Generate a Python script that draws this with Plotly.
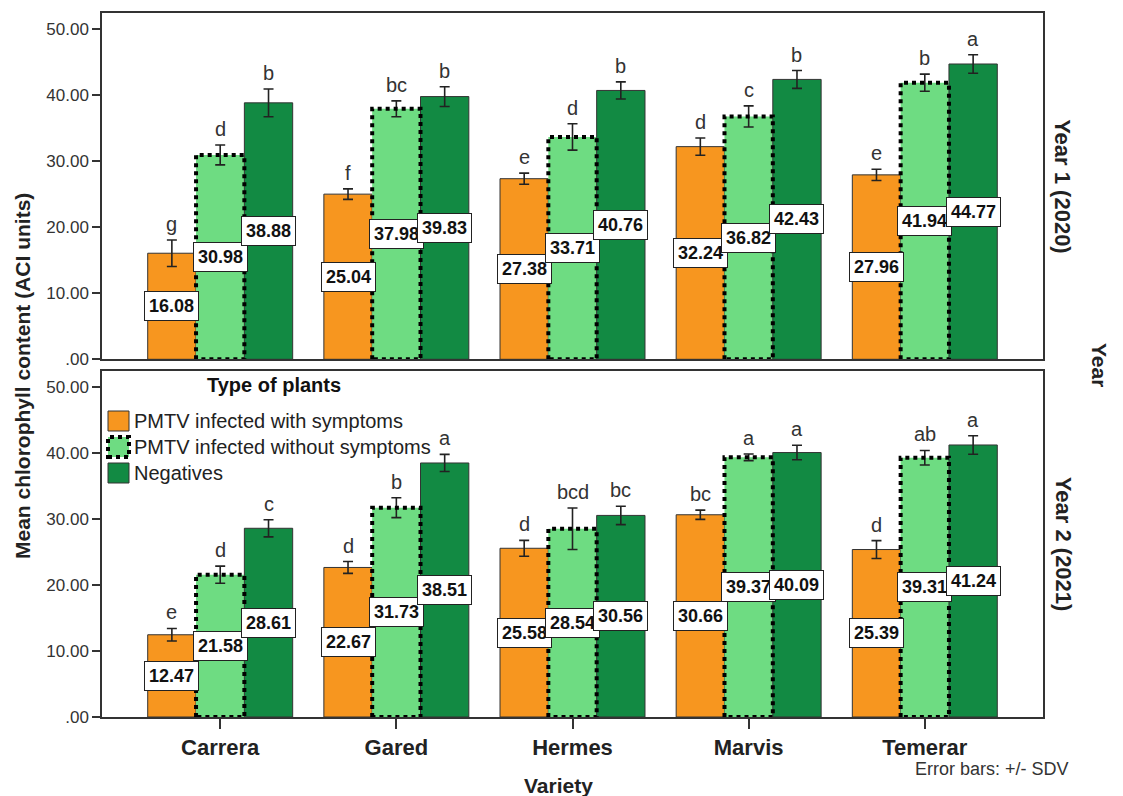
import plotly.graph_objects as go

# ---- data -------------------------------------------------------------
varieties = ["Carrera", "Gared", "Hermes", "Marvis", "Temerar"]
groups = ["PMTV infected with symptoms", "PMTV infected without symptoms", "Negatives"]

# Year 1 (2020)
y1_sym = [16.08, 25.04, 27.38, 32.24, 27.96]
y1_nosym = [30.98, 37.98, 33.71, 36.82, 41.94]
y1_neg = [38.88, 39.83, 40.76, 42.43, 44.77]
y1_sym_sd = [2.0, 0.8, 0.85, 1.3, 0.85]
y1_nosym_sd = [1.5, 1.2, 2.0, 1.6, 1.3]
y1_neg_sd = [2.1, 1.5, 1.3, 1.35, 1.4]
y1_sym_let = ["g", "f", "e", "d", "e"]
y1_nosym_let = ["d", "bc", "d", "c", "b"]
y1_neg_let = ["b", "b", "b", "b", "a"]

# Year 2 (2021)
y2_sym = [12.47, 22.67, 25.58, 30.66, 25.39]
y2_nosym = [21.58, 31.73, 28.54, 39.37, 39.31]
y2_neg = [28.61, 38.51, 30.56, 40.09, 41.24]
y2_sym_sd = [0.95, 0.9, 1.2, 0.7, 1.35]
y2_nosym_sd = [1.3, 1.5, 3.15, 0.5, 1.1]
y2_neg_sd = [1.3, 1.3, 1.4, 1.1, 1.4]
y2_sym_let = ["e", "d", "d", "bc", "d"]
y2_nosym_let = ["d", "b", "bcd", "a", "ab"]
y2_neg_let = ["c", "a", "bc", "a", "a"]

y_tickvals = [0, 10, 20, 30, 40, 50]
y_ticktext = [".00", "10.00", "20.00", "30.00", "40.00", "50.00"]

# ---- styling ----------------------------------------------------------
FONT = "Arial, Liberation Sans, sans-serif"
colors = ["#F7961F", "#6EDC82", "#128A43"]
BARGAP = 0.177
BW = (1 - BARGAP) / 3          # width of one bar in category units
xpos = list(range(len(varieties)))

panels = [
    dict(xa="x", ya="y", vals=[y1_sym, y1_nosym, y1_neg],
         sds=[y1_sym_sd, y1_nosym_sd, y1_neg_sd],
         lets=[y1_sym_let, y1_nosym_let, y1_neg_let]),
    dict(xa="x2", ya="y2", vals=[y2_sym, y2_nosym, y2_neg],
         sds=[y2_sym_sd, y2_nosym_sd, y2_neg_sd],
         lets=[y2_sym_let, y2_nosym_let, y2_neg_let]),
]

fig = go.Figure()
annotations = []

for p in panels:
    for k in range(3):
        solid = k != 1
        fig.add_trace(go.Bar(
            x=xpos, y=p["vals"][k], name=groups[k],
            xaxis=p["xa"], yaxis=p["ya"], showlegend=False,
            marker=dict(color=colors[k],
                        line=dict(color="#333333", width=1 if solid else 0)),
            error_y=dict(type="data", array=p["sds"][k], visible=True,
                         color="#222222", thickness=1.6, width=5),
        ))
    # dotted outline of the "without symptoms" bars
    ox, oy = [], []
    for i, v in zip(xpos, p["vals"][1]):
        x0, x1 = i - BW / 2, i + BW / 2
        ox += [x0, x0, x1, x1, x0, None]
        oy += [0, v, v, 0, 0, None]
    fig.add_trace(go.Scatter(
        x=ox, y=oy, mode="lines", xaxis=p["xa"], yaxis=p["ya"],
        line=dict(color="black", width=4, dash="dot"),
        showlegend=False, hoverinfo="skip"))

    for k in range(3):
        for i, v in enumerate(p["vals"][k]):
            xc = i + (k - 1) * BW
            # value box at mid-height of bar
            annotations.append(dict(
                x=xc, y=v / 2, xref=p["xa"], yref=p["ya"],
                xanchor="center", yanchor="middle",
                text="<b>%.2f</b>" % v, showarrow=False,
                font=dict(family=FONT, size=18, color="#111111"),
                bgcolor="white", bordercolor="#222222", borderwidth=1,
                borderpad=4))
            # significance letter above the error bar
            annotations.append(dict(
                x=xc, y=v + p["sds"][k][i], xref=p["xa"], yref=p["ya"],
                text=p["lets"][k][i], showarrow=False,
                xanchor="center", yanchor="bottom",
                yshift=3, font=dict(family=FONT, size=20, color="#333333")))

# ---- layout -----------------------------------------------------------
L, R, T, B = 102, 80, 13, 79
W, H = 1123, 796
pw, ph = W - L - R, H - T - B


def px_x(px):
    return (px - L) / pw


def px_y(py):
    return (H - B - py) / ph


xrange_ = [-0.671, len(varieties) - 1 + 0.671]
axis_common = dict(showline=True, mirror=True, linecolor="#333333",
                   linewidth=1.5, showgrid=False, zeroline=False)

yaxis_common = dict(axis_common, range=[0, 52.5], tickvals=y_tickvals,
                    ticktext=y_ticktext, ticks="outside", ticklen=8,
                    tickwidth=1.5, tickcolor="#333333",
                    tickfont=dict(family=FONT, size=17, color="#333333"))

fig.update_layout(
    width=W, height=H,
    margin=dict(l=L, r=R, t=T, b=B),
    paper_bgcolor="white", plot_bgcolor="white",
    barmode="group", bargap=BARGAP, bargroupgap=0,
    xaxis=dict(axis_common, domain=[0, 1], range=xrange_, anchor="y",
               showticklabels=False, ticks=""),
    yaxis=dict(yaxis_common, domain=[px_y(359.3), 1], anchor="x"),
    xaxis2=dict(axis_common, domain=[0, 1], range=xrange_, anchor="y2",
                tickvals=xpos, ticktext=["<b>%s</b>" % v for v in varieties],
                ticks="outside", ticklen=10, tickwidth=1.5,
                tickcolor="#333333",
                tickfont=dict(family=FONT, size=22, color="#222222")),
    yaxis2=dict(yaxis_common, domain=[0, px_y(370.7)], anchor="x2"),
    font=dict(family=FONT),
)


def label(text, px, py, size, angle=0, color="#222222", yref="paper", y=None):
    return dict(x=px_x(px), y=px_y(py) if y is None else y,
                xref="paper", yref=yref, xanchor="center", yanchor="middle",
                text=text, textangle=angle, showarrow=False,
                font=dict(family=FONT, size=size, color=color))


# axis titles and panel labels
annotations += [
    label("<b>Mean chlorophyll content (ACI units)</b>", 22, 376, 21, -90),
    label("<b>Year 1 (2020)</b>", 1063, 0, 22, 90, yref="y domain", y=0.5),
    label("<b>Year 2 (2021)</b>", 1063, 0, 22, 90, yref="y2 domain", y=0.5),
    label("<b>Year</b>", 1100, 365, 21, 90),
    label("<b>Variety</b>", 558, 785, 21),
    label("Error bars: +/- SDV", 992, 769, 18, color="#333333"),
    label("<b>Type of plants</b>", 274, 385, 20, color="#111111"),
]

# hand-built legend inside the lower panel
shapes = []
for k, name in enumerate(groups):
    cy = 421 + 26 * k
    shapes.append(dict(
        type="rect", xref="paper", yref="paper",
        x0=px_x(108), x1=px_x(129), y0=px_y(cy + 10), y1=px_y(cy - 10),
        fillcolor=colors[k],
        line=dict(color="black" if k == 1 else "#333333",
                  width=4 if k == 1 else 1,
                  dash="dot" if k == 1 else "solid")))
    annotations.append(dict(
        x=px_x(132), y=px_y(cy), xref="paper", yref="paper",
        xanchor="left", yanchor="middle",
        text=name, showarrow=False,
        font=dict(family=FONT, size=20, color="#222222")))

fig.update_layout(annotations=annotations, shapes=shapes)

fig.write_html("out.html")
